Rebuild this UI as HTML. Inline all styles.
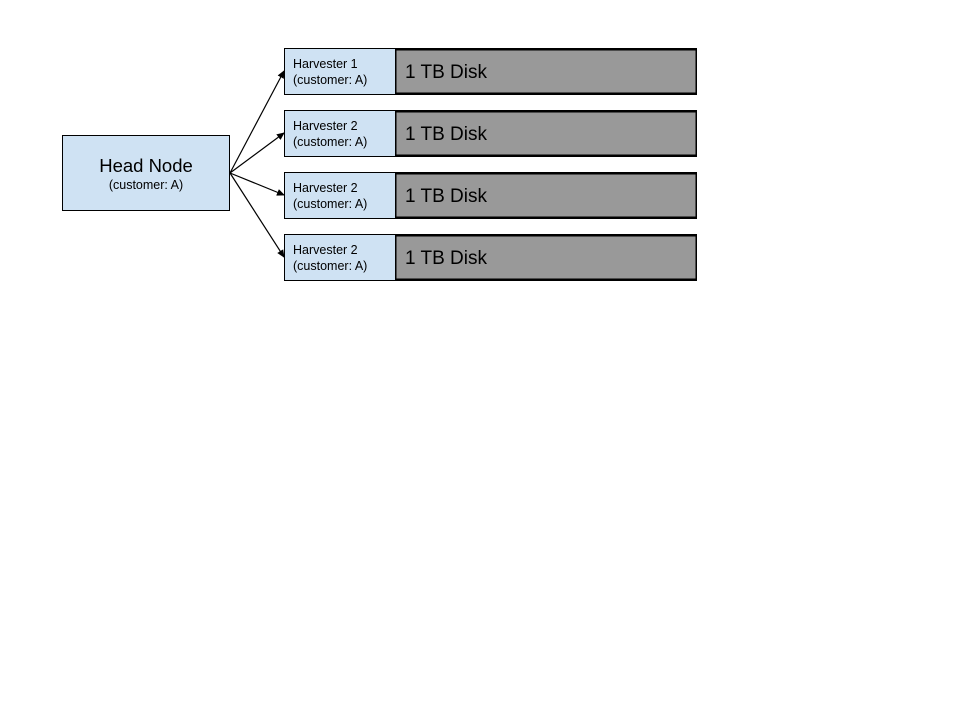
<!DOCTYPE html>
<html><head><meta charset="utf-8"><style>
html,body{margin:0;padding:0;background:#fff;}
svg{display:block;}
text{font-family:"Liberation Sans",Arial,sans-serif;fill:#000;}
</style></head><body>
<svg width="960" height="720" viewBox="0 0 960 720" xmlns="http://www.w3.org/2000/svg">
<defs>
<marker id="ah" markerWidth="8" markerHeight="8" refX="7" refY="4" orient="auto" markerUnits="userSpaceOnUse">
<path d="M0,0.5 L8,4 L0,7.5 Z" fill="#000"/>
</marker>
</defs>
<rect x="62.5" y="135.5" width="167" height="75" fill="#cfe2f3" stroke="#000" stroke-width="1"/>
<text x="146" y="172" font-size="18.5" text-anchor="middle">Head Node</text>
<text x="146" y="189" font-size="12.5" text-anchor="middle">(customer: A)</text>
<g stroke="#000" stroke-width="1.2" fill="none" marker-end="url(#ah)">
<line x1="230" y1="173" x2="284" y2="71"/>
<line x1="230" y1="173" x2="284" y2="133"/>
<line x1="230" y1="173" x2="284" y2="195"/>
<line x1="230" y1="173" x2="284" y2="257"/>
</g>
<g transform="translate(0,0)">
<rect x="284.5" y="48.5" width="412" height="46" fill="#cfe2f3" stroke="#000"/>
<rect x="395.75" y="49.75" width="300.5" height="43.5" fill="#999" stroke="#000" stroke-width="1.5"/>
<text x="293" y="68" font-size="12.5">Harvester 1</text>
<text x="293" y="84" font-size="12.5">(customer: A)</text>
<text x="405" y="78" font-size="19">1 TB Disk</text>
</g>
<g transform="translate(0,62)">
<rect x="284.5" y="48.5" width="412" height="46" fill="#cfe2f3" stroke="#000"/>
<rect x="395.75" y="49.75" width="300.5" height="43.5" fill="#999" stroke="#000" stroke-width="1.5"/>
<text x="293" y="68" font-size="12.5">Harvester 2</text>
<text x="293" y="84" font-size="12.5">(customer: A)</text>
<text x="405" y="78" font-size="19">1 TB Disk</text>
</g>
<g transform="translate(0,124)">
<rect x="284.5" y="48.5" width="412" height="46" fill="#cfe2f3" stroke="#000"/>
<rect x="395.75" y="49.75" width="300.5" height="43.5" fill="#999" stroke="#000" stroke-width="1.5"/>
<text x="293" y="68" font-size="12.5">Harvester 2</text>
<text x="293" y="84" font-size="12.5">(customer: A)</text>
<text x="405" y="78" font-size="19">1 TB Disk</text>
</g>
<g transform="translate(0,186)">
<rect x="284.5" y="48.5" width="412" height="46" fill="#cfe2f3" stroke="#000"/>
<rect x="395.75" y="49.75" width="300.5" height="43.5" fill="#999" stroke="#000" stroke-width="1.5"/>
<text x="293" y="68" font-size="12.5">Harvester 2</text>
<text x="293" y="84" font-size="12.5">(customer: A)</text>
<text x="405" y="78" font-size="19">1 TB Disk</text>
</g>
</svg>
</body></html>
